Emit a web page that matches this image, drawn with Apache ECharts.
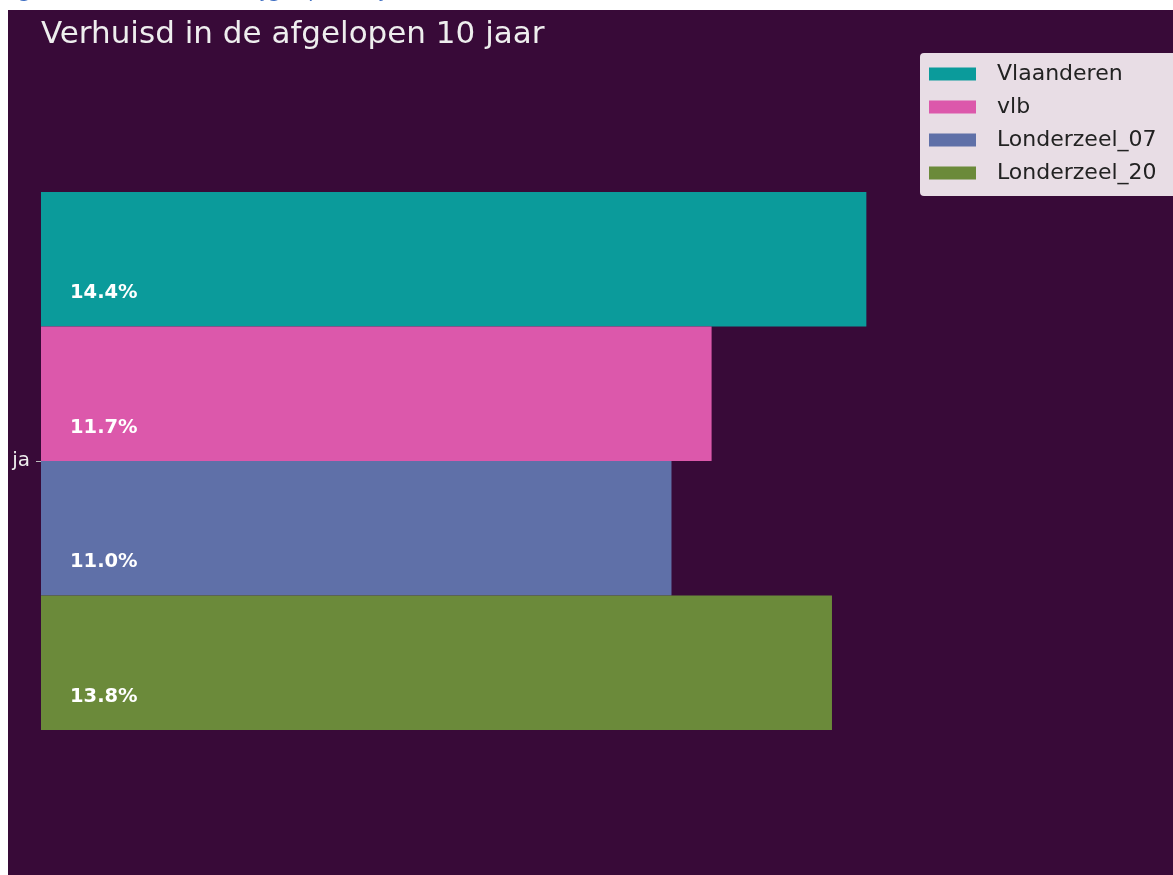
<!DOCTYPE html>
<html>
<head>
<meta charset="utf-8">
<script src="https://cdn.jsdelivr.net/npm/echarts@6/dist/echarts.min.js"></script>
<style>
html,body{margin:0;padding:0;background:#fff;}
#chart{width:1173px;height:875px;}
</style>
</head>
<body>
<div id="chart"></div>
<script>
const categories = ['ja'];
const seriesNames = ['Vlaanderen', 'vlb', 'Londerzeel_07', 'Londerzeel_20'];
const seriesValues = [[14.4], [11.7], [11.0], [13.8]];
const seriesColors = ['#0b9b9b', '#dc58ab', '#5f70a8', '#6b8a3a'];
const titleText = 'Verhuisd in de afgelopen 10 jaar';
const captionText = 'Figuur 10: Verhuisd in de afgelopen 10 jaar';

const chart = echarts.init(document.getElementById('chart'));
const series = seriesNames.map((name, i) => ({
  name: name,
  type: 'bar',
  data: seriesValues[i],
  barWidth: 134.5,
  barGap: '0%',
  itemStyle: { color: seriesColors[i] },
  label: {
    show: true,
    position: 'insideLeft',
    distance: 29,
    offset: [0, 34],
    formatter: p => p.value.toFixed(1) + '%',
    color: '#ffffff',
    fontFamily: 'DejaVu Sans',
    fontWeight: 'bold',
    fontSize: 19.5
  },
  emphasis: { disabled: true }
}));

chart.setOption({
  animation: false,
  backgroundColor: '#ffffff',
  graphic: [
    { type: 'rect', z: -10, shape: { x: 8, y: 10, width: 1165, height: 865 }, style: { fill: '#380a38' } },
    { type: 'text', z: -5, left: 4, top: -21, style: { text: captionText, fill: '#4472c4', font: 'italic 22px "Open Sans"' } }
  ],
  title: {
    text: titleText,
    left: 36,
    top: 14,
    textStyle: { color: '#eeeeee', fontFamily: 'DejaVu Sans', fontWeight: 'normal', fontSize: 31 }
  },
  legend: {
    orient: 'vertical',
    left: 920,
    top: 53,
    data: seriesNames,
    icon: 'rect',
    itemWidth: 47,
    itemHeight: 13,
    itemGap: 11,
    padding: [10, 30, 12, 9],
    backgroundColor: '#e8dde5',
    borderRadius: 4,
    textStyle: { color: '#222222', fontFamily: 'DejaVu Sans', fontSize: 22, padding: [0, 0, 0, 16], lineHeight: 20 },
    selectedMode: false
  },
  grid: { left: 41, right: 0, top: 47, height: 828, containLabel: false },
  xAxis: { type: 'value', min: 0, max: 19.75, show: false },
  yAxis: {
    type: 'category',
    data: categories,
    inverse: true,
    axisLine: { show: false },
    axisTick: { show: true, length: 5, lineStyle: { color: '#bbbbbb' }, alignWithLabel: true },
    axisLabel: { color: '#eeeeee', fontFamily: 'DejaVu Sans', fontSize: 20, margin: 11 },
    splitLine: { show: false }
  },
  series: series
});
</script>
</body>
</html>
